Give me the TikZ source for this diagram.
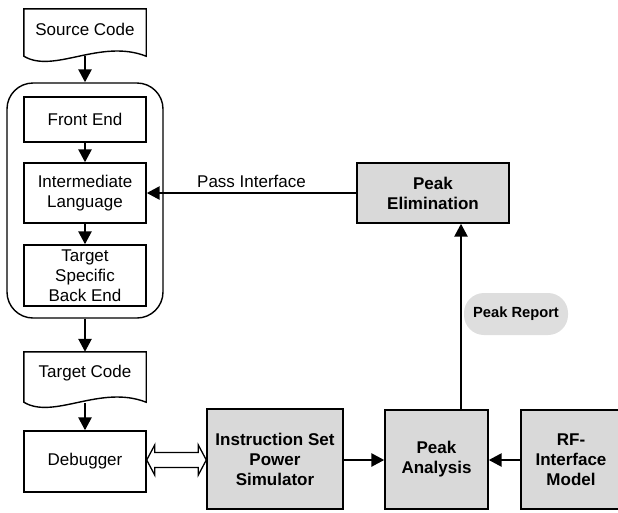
\documentclass[tikz,border=0pt]{standalone}
\usepackage{fontspec}
\setmainfont{Liberation Sans}
\usetikzlibrary{arrows.meta,calc}
\definecolor{boxgray}{HTML}{D9D9D9}
\definecolor{repgray}{HTML}{DEDEDE}
\tikzset{
  wbox/.style={draw=black, line width=1.4pt, fill=white, minimum width=122pt, inner sep=0pt, align=center, font=\fontsize{17}{20}\selectfont},
  gbox/.style={draw=black, line width=1.4pt, fill=boxgray, inner sep=0pt, align=center, font=\fontsize{17}{20}\selectfont\bfseries},
  docshape/.style={minimum width=122pt, inner sep=0pt, align=center, font=\fontsize{17}{20}\selectfont},
  outline/.style={draw=black, line width=1.4pt, fill=white},
  flow/.style={line width=2.6pt, -{Triangle[length=13pt,width=13pt]}},
}
\begin{document}
\begin{tikzpicture}[x=1pt,y=-1pt]
\useasboundingbox (0,0) rectangle (618,512);
% container
\node[draw=black, line width=1.4pt, rounded corners=26pt, minimum width=156pt, minimum height=235pt, inner sep=0pt] (cont) at (85,200.5) {};
% documents
\node[docshape, minimum height=47pt] (src) at (85,32.5) {};
\draw[outline] (src.north west) -- (src.north east) -- (src.south east)
  .. controls +(-46,-18) and +(30,18) .. (src.south west) -- cycle;
\node[font=\fontsize{17}{20}\selectfont] (srct) at (85,29) {Source Code};
\node[docshape, minimum height=50pt] (tgt) at (85,377) {};
\draw[outline] (tgt.north west) -- (tgt.north east) -- (tgt.south east)
  .. controls +(-46,-18) and +(30,18) .. (tgt.south west) -- cycle;
\node[font=\fontsize{17}{20}\selectfont] (tgtt) at (85,373) {Target Code};
% white boxes
\node[wbox, minimum height=45pt] (fe) at (85,119.5) {Front End};
\node[wbox, minimum height=60pt] (il) at (85,193) {Intermediate\\Language};
\node[wbox, minimum height=61pt] (tsbe) at (85,275.5) {Target\\Specific\\Back End};
\node[wbox, minimum height=61pt] (dbg) at (85,461.5) {Debugger};
% gray boxes
\node[gbox, minimum width=136pt, minimum height=100pt] (iss) at (275,459) {Instruction Set\\Power\\Simulator};
\node[gbox, minimum width=103pt, minimum height=99pt] (pa) at (436.5,459.5) {Peak\\Analysis};
\node[gbox, minimum width=100pt, minimum height=99pt] (rf) at (571,459.5) {RF-\\Interface\\Model};
\node[gbox, minimum width=152pt, minimum height=60pt] (pe) at (433,193) {Peak\\Elimination};
% arrows
\draw[flow] (src.south) -- (cont.north);
\draw[flow] (fe.south) -- (il.north);
\draw[flow] (il.south) -- (tsbe.north);
\draw[flow] (cont.south) -- (tgt.north);
\draw[flow] ([yshift=-1pt]tgt.south) -- (dbg.north);
\draw[flow] (iss.east |- 0,460) -- (pa.west |- 0,460);
\draw[flow] (rf.west |- 0,460) -- (pa.east |- 0,460);
\coordinate (paup) at (461,410);
\draw[flow] (paup) -- (paup |- pe.south);
\draw[flow] (pe.west) -- node[above=1pt, font=\fontsize{17}{20}\selectfont] (pit) {Pass Interface} (il.east);
% peak report label
\node[fill=repgray, rounded corners=20pt, minimum width=104pt, minimum height=42pt, inner sep=0pt, font=\fontsize{14.7}{17}\selectfont\bfseries] (rep) at (516,314) {Peak Report};
% hollow double arrow
\coordinate (dl) at (dbg.east |- 0,460);
\coordinate (dr) at (iss.west |- 0,460);
\draw[line width=1.3pt, fill=white, line join=miter]
  (dl) -- ++(8,-15) -- ++(0,7.5) -- ($(dr)+(-8,-7.5)$) -- ++(0,-7.5) -- (dr)
  -- ++(-8,15) -- ++(0,-7.5) -- ($(dl)+(8,7.5)$) -- ++(0,7.5) -- cycle;
\end{tikzpicture}
\end{document}
